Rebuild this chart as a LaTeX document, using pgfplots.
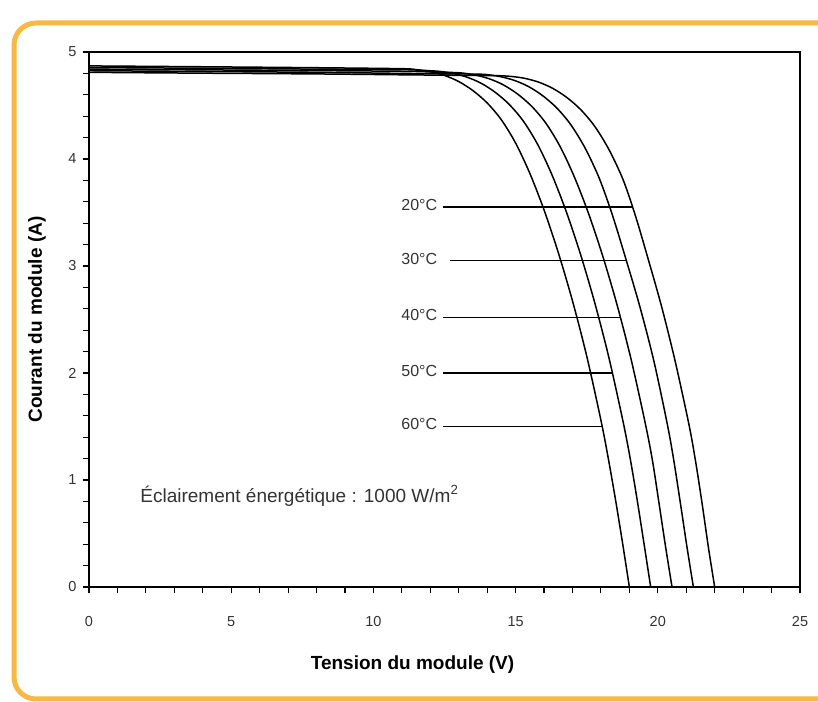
\documentclass[border=0pt]{standalone}
\usepackage{pgfplots}
\pgfplotsset{compat=1.18}
\usepackage{fontspec}
\setmainfont{Liberation Sans}
\definecolor{frameorange}{RGB}{247,184,68}
\begin{document}
\begin{tikzpicture}
\useasboundingbox (0,0) rectangle (818bp,702bp);
\fill[white] (0,0) rectangle (818bp,702bp);
\draw[frameorange, line width=5bp, rounded corners=22bp] (14bp,3bp) rectangle (840bp,679bp);
\begin{axis}[
  at={(89bp,115bp)}, anchor=south west,
  scale only axis, width=711bp, height=535bp,
  xmin=0, xmax=25, ymin=0, ymax=5,
  xtick={0,5,...,25}, ytick={0,1,...,5},
  minor xtick={0,1,...,25}, minor ytick={0,0.2,...,5},
  tick pos=left,
  tick style={black, line width=1.1bp},
  xtick align=outside, ytick align=outside,
  major tick length=6bp, minor tick length=6bp,
  axis line style={line width=1.2bp},
  /pgf/number format/assume math mode=true,
  ticklabel style={font=\fontsize{14.5bp}{17bp}\selectfont, text=black!80},
  xticklabel style={yshift=-20bp},
  yticklabel style={xshift=-3bp},
  xlabel={Tension du module (V)},
  ylabel={Courant du module (A)},
  label style={font=\fontsize{19bp}{22bp}\selectfont\bfseries},
  xlabel style={at={(axis description cs:0.455,-0.1458)}, anchor=center},
  ylabel style={at={(axis description cs:-0.0731,0.5)}, anchor=center},
  clip=false,
]
% 60 C
\addplot[black, line width=1.5bp, smooth, tension=0.5] coordinates {(0,4.87)(4,4.862)(8,4.853)(11,4.844)(11.5,4.835)(12,4.816)(12.5,4.781)(13,4.724)(13.5,4.639)(14,4.524)(14.5,4.366)(15,4.149)(15.5,3.866)(16,3.524)(16.5,3.126)(17,2.674)(17.5,2.159)(18,1.559)(18.25,1.215)(18.5,0.836)(18.75,0.429)(19,0)};
% 50 C
\addplot[black, line width=1.5bp, smooth, tension=0.5] coordinates {(0,4.855)(4,4.848)(8,4.84)(11,4.835)(11.7,4.829)(12.28,4.82)(12.78,4.801)(13.28,4.766)(13.78,4.709)(14.28,4.624)(14.78,4.509)(15.28,4.351)(15.78,4.134)(16.28,3.851)(16.78,3.509)(17.28,3.111)(17.78,2.659)(18.28,2.144)(18.78,1.544)(19.03,1.2)(19.27,0.821)(19.51,0.414)(19.75,0)};
% 40 C
\addplot[black, line width=1.5bp, smooth, tension=0.5] coordinates {(0,4.84)(4,4.833)(8,4.826)(11,4.82)(12,4.814)(12.56,4.81)(13.06,4.805)(13.56,4.786)(14.06,4.751)(14.56,4.694)(15.06,4.609)(15.56,4.494)(16.06,4.336)(16.56,4.119)(17.06,3.836)(17.56,3.494)(18.06,3.096)(18.56,2.644)(19.06,2.129)(19.56,1.529)(19.81,1.185)(20.03,0.806)(20.26,0.399)(20.5,0)};
% 30 C
\addplot[black, line width=1.5bp, smooth, tension=0.5] coordinates {(0,4.825)(4,4.818)(8,4.81)(11,4.80)(12.3,4.797)(13.44,4.794)(13.94,4.79)(14.44,4.771)(14.94,4.736)(15.44,4.679)(15.94,4.594)(16.44,4.479)(16.94,4.321)(17.44,4.104)(17.94,3.821)(18.40,3.479)(18.86,3.081)(19.36,2.629)(19.86,2.114)(20.34,1.514)(20.57,1.17)(20.79,0.791)(21.02,0.384)(21.25,0)};
% 20 C
\addplot[black, line width=1.5bp, smooth, tension=0.5] coordinates {(0,4.81)(4,4.802)(8,4.795)(11,4.787)(12.6,4.783)(14.28,4.779)(14.78,4.773)(15.28,4.756)(15.78,4.721)(16.28,4.664)(16.78,4.579)(17.28,4.464)(17.78,4.306)(18.28,4.089)(18.78,3.806)(19.22,3.464)(19.66,3.066)(20.14,2.614)(20.62,2.099)(21.11,1.499)(21.34,1.155)(21.56,0.776)(21.78,0.369)(22.0,0)};
% label lines
\addplot[black, line width=1.5bp] coordinates {(12.44,3.55)(19.11,3.55)};
\addplot[black, line width=1.5bp] coordinates {(12.71,3.05)(18.89,3.05)};
\addplot[black, line width=1.5bp] coordinates {(12.44,2.52)(18.68,2.52)};
\addplot[black, line width=1.5bp] coordinates {(12.44,2.0)(18.39,2.0)};
\addplot[black, line width=1.5bp] coordinates {(12.44,1.50)(18.04,1.50)};
\begin{scope}[every node/.style={font=\fontsize{16bp}{19bp}\selectfont, text=black!80, anchor=east, inner sep=0pt}]
\node at (axis cs:12.25,3.57) {20°C};
\node at (axis cs:12.25,3.07) {30°C};
\node at (axis cs:12.25,2.54) {40°C};
\node at (axis cs:12.25,2.02) {50°C};
\node at (axis cs:12.25,1.52) {60°C};
\end{scope}
\node[anchor=west, inner sep=0pt, font=\fontsize{19bp}{22bp}\selectfont, text=black!80] at (axis cs:1.8,0.85) {Éclairement énergétique : 1000 W/m\textsuperscript{2}};
\end{axis}
\end{tikzpicture}
\end{document}
